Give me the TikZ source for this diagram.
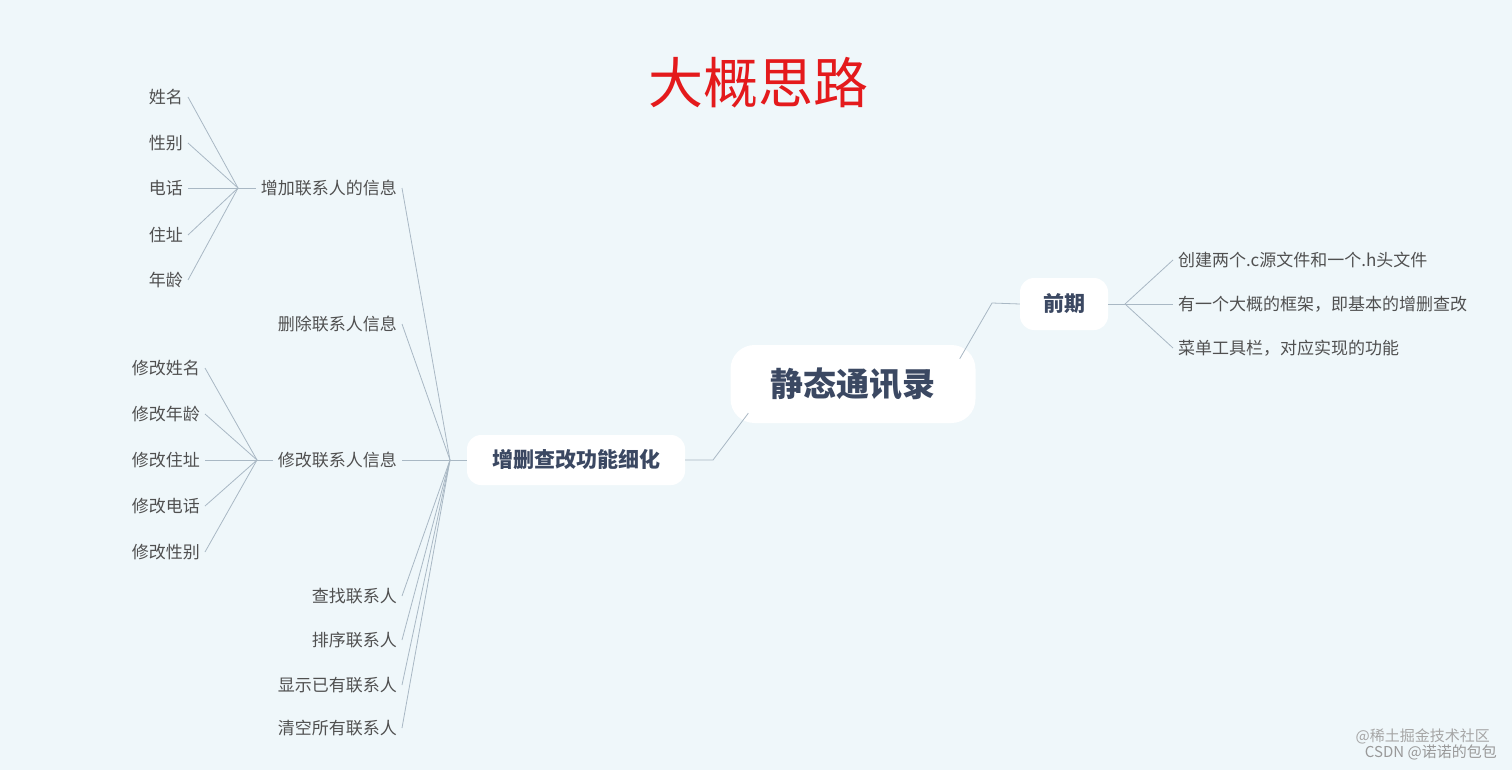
\documentclass[tikz,border=0pt]{standalone}
\usepackage{fontspec}
\setmainfont{Noto Sans CJK SC}
\usetikzlibrary{shapes.geometric}
\definecolor{bg}{HTML}{EFF7FA}
\definecolor{ln}{HTML}{A9B8C4}
\definecolor{lf}{HTML}{505050}
\definecolor{hd}{HTML}{3B4862}
\begin{document}
\begin{tikzpicture}[x=1pt,y=-1pt,
  leafR/.style={anchor=east,text=lf,font=\fontsize{17}{19}\selectfont,inner sep=0pt},
  leafL/.style={anchor=west,text=lf,font=\fontsize{17}{19}\selectfont,inner sep=0pt},
  hub/.style={fill=white,draw=none,rounded corners=14pt,text=hd,font=\bfseries},
  con/.style={draw=ln,line width=0.8pt}]
\fill[bg] (0,0) rectangle (1512,770);
\useasboundingbox (0,0) rectangle (1512,770);
\node[text={rgb,255:red,228;green,26;blue,28},font=\fontsize{55}{60}\selectfont] (title) at (758,83) {大概思路};
\node[hub,minimum width=245pt,minimum height=78pt,font=\fontsize{33}{36}\bfseries,rounded corners=24pt] (root) at (853,384) {静态通讯录};
\node[hub,minimum width=88pt,minimum height=52pt,font=\fontsize{21}{24}\bfseries] (pre) at (1064,304) {前期};
\node[hub,minimum width=218pt,minimum height=50pt,font=\fontsize{21}{24}\bfseries] (crud) at (576,460) {增删查改功能细化};
% root connections
\coordinate (r1) at (992,303);
\coordinate (r2) at (713,460);
\draw[con] (root.north east)++(-16,14) coordinate (rne) -- (r1) -- (pre.west);
\draw[con] (root.south west)++(18,-10) coordinate (rsw) -- (r2) -- (crud.east);
% pre leaves
\coordinate (ph) at (1125,304);
\node[leafL] (p1) at (1178,260) {创建两个.c源文件和一个.h头文件};
\node[leafL] (p2) at (1178,304) {有一个大概的框架，即基本的增删查改};
\node[leafL] (p3) at (1178,348) {菜单工具栏，对应实现的功能};
\draw[con] (pre.east) -- (ph);
\foreach \n in {p1,p2,p3} \draw[con] (ph) -- ([xshift=-5pt]\n.west);
% crud leaves
\coordinate (ch) at (450,460);
\draw[con] (crud.west) -- (ch);
\node[leafR] (c1) at (397,188) {增加联系人的信息};
\node[leafR] (c2) at (397,324) {删除联系人信息};
\node[leafR] (c3) at (397,460) {修改联系人信息};
\node[leafR] (c4) at (397,596) {查找联系人};
\node[leafR] (c5) at (397,640) {排序联系人};
\node[leafR] (c6) at (397,685) {显示已有联系人};
\node[leafR] (c7) at (397,728) {清空所有联系人};
\foreach \n in {c1,c2,c3,c4,c5,c6,c7} \draw[con] (ch) -- ([xshift=5pt]\n.east);
% add sub
\coordinate (ah) at (238,188);
\draw[con] ([xshift=-5pt]c1.west) -- (ah);
\node[leafR] (a1) at (183,97) {姓名};
\node[leafR] (a2) at (183,143) {性别};
\node[leafR] (a3) at (183,188) {电话};
\node[leafR] (a4) at (183,235) {住址};
\node[leafR] (a5) at (183,280) {年龄};
\foreach \n in {a1,a2,a3,a4,a5} \draw[con] (ah) -- ([xshift=5pt]\n.east);
% modify sub
\coordinate (mh) at (257,460);
\draw[con] ([xshift=-5pt]c3.west) -- (mh);
\node[leafR] (m1) at (200,368) {修改姓名};
\node[leafR] (m2) at (200,414) {修改年龄};
\node[leafR] (m3) at (200,460) {修改住址};
\node[leafR] (m4) at (200,506) {修改电话};
\node[leafR] (m5) at (200,552) {修改性别};
\foreach \n in {m1,m2,m3,m4,m5} \draw[con] (mh) -- ([xshift=5pt]\n.east);
% watermark
\node[anchor=east,text=gray!70,font=\fontsize{15}{17}\selectfont,inner sep=0pt] (w1) at (1490,736) {@稀土掘金技术社区};
\node[anchor=east,text=gray!80,font=\fontsize{15}{17}\selectfont,inner sep=0pt] (w2) at (1497,752) {CSDN @诺诺的包包};
\end{tikzpicture}
\end{document}
